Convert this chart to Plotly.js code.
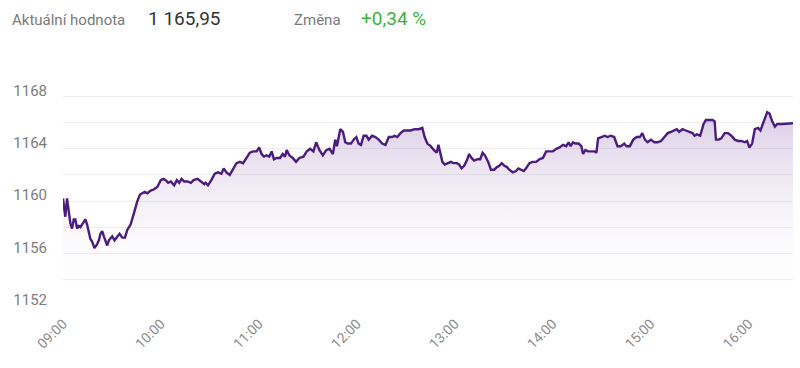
<!DOCTYPE html>
<html>
<head>
<meta charset="utf-8">
<script src="https://cdn.plot.ly/plotly-3.0.1.min.js"></script>
<style>
html,body{margin:0;padding:0;background:#fff;}
#chart{width:800px;height:368px;}
</style>
</head>
<body>
<div id="chart"></div>
<script>
const tradeDate = "2024-01-01";
const times = [
"09:00:00","09:01:25","09:02:28","09:03:30","09:04:30","09:05:32","09:06:35","09:07:34","09:08:37","09:09:40",
"09:10:39","09:12:44","09:13:43","09:14:46","09:15:49","09:16:48","09:17:51","09:19:16","09:20:55","09:21:58",
"09:22:57","09:24:00","09:25:03","09:26:02","09:27:05","09:28:07","09:29:07","09:30:09","09:31:34","09:33:14",
"09:34:39","09:36:19","09:37:58","09:39:23","09:41:25","09:43:31","09:45:32","09:47:12","09:48:37","09:50:02",
"09:51:42","09:53:43","09:55:49","09:57:51","09:59:53","10:01:32","10:02:57","10:04:26","10:06:02","10:08:07",
"10:09:43","10:11:12","10:12:37","10:14:17","10:16:19","10:18:20","10:20:00","10:22:28","10:24:30","10:26:35",
"10:27:23","10:28:48","10:30:54","10:32:56","10:34:57","10:37:03","10:38:28","10:40:08","10:42:09","10:44:11",
"10:46:17","10:48:19","10:50:20","10:52:26","10:54:28","10:56:30","10:58:35","11:00:11","11:01:40","11:03:05",
"11:04:45","11:06:21","11:07:49","11:09:14","11:10:54","11:12:56","11:14:35","11:16:00","11:17:03","11:18:39",
"11:20:45","11:22:46","11:24:48","11:27:16","11:29:21","11:31:23","11:33:25","11:35:05","11:37:07","11:39:12",
"11:41:14","11:43:16","11:45:21","11:46:46","11:47:49","11:49:51","11:51:31","11:52:56","11:54:21","11:56:26",
"11:58:02","11:59:42","12:01:07","12:02:35","12:04:11","12:05:51","12:07:16","12:09:22","12:11:23","12:13:25",
"12:15:31","12:17:33","12:19:35","12:21:40","12:23:05","12:24:45","12:26:47","12:28:48","12:30:54","12:32:56",
"12:35:23","12:38:02","12:40:08","12:41:33","12:43:12","12:45:14","12:47:16","12:48:56","12:49:59","12:51:23",
"12:52:26","12:53:51","12:55:31","12:57:33","12:59:12","13:01:14","13:02:39","13:04:08","13:05:44","13:07:24",
"13:08:48","13:10:17","13:11:53","13:13:59","13:15:35","13:17:03","13:18:28","13:20:30","13:22:10","13:24:11",
"13:25:51","13:27:16","13:28:45","13:30:21","13:32:00","13:33:25","13:35:31","13:37:33","13:38:58","13:40:37",
"13:42:17","13:43:42","13:45:44","13:47:49","13:49:51","13:51:53","13:53:59","13:56:00","13:58:02","14:00:08",
"14:02:10","14:04:12","14:06:17","14:08:19","14:09:44","14:10:58","14:12:26","14:13:51","14:15:53","14:17:33",
"14:18:36","14:20:00","14:21:40","14:23:42","14:25:44","14:26:47","14:27:49","14:29:51","14:31:53","14:33:33",
"14:35:35","14:37:40","14:39:42","14:41:44","14:43:49","14:45:14","14:47:16","14:49:22","14:51:24","14:53:25",
"14:54:54","14:56:30","14:58:10","15:00:12","15:02:17","15:04:19","15:06:21","15:08:26","15:10:28","15:12:30",
"15:14:36","15:16:01","15:17:26","15:19:31","15:21:33","15:24:12","15:25:40","15:26:54","15:28:19","15:30:21",
"15:32:26","15:33:51","15:35:53","15:37:59","15:39:13","15:40:01","15:41:40","15:43:16","15:45:22","15:47:24",
"15:49:26","15:51:31","15:53:33","15:55:35","15:57:40","15:59:05","16:00:30","16:02:10","16:03:50","16:05:51",
"16:07:16","16:09:22","16:11:24","16:12:49","16:14:28","16:16:08","16:17:33","16:20:38","16:24:45","16:27:13"
];
const values = [
1160.2,1158.8,1160.2,1159.2,1158.3,1157.9,1158.6,1158.6,1157.9,1158.1,
1158.0,1158.4,1158.6,1158.2,1157.7,1157.1,1156.9,1156.4,1156.7,1157.0,
1157.5,1157.7,1157.3,1156.9,1156.6,1157.0,1157.2,1157.3,1157.0,1157.3,
1157.5,1157.2,1157.2,1157.8,1158.2,1159.1,1160.0,1160.5,1160.6,1160.7,
1160.6,1160.8,1160.9,1161.1,1161.6,1161.7,1161.6,1161.4,1161.5,1161.2,
1161.6,1161.4,1161.7,1161.5,1161.5,1161.4,1161.6,1161.7,1161.5,1161.3,
1161.4,1161.2,1161.6,1162.1,1162.2,1162.1,1162.5,1162.2,1162.0,1162.4,
1162.9,1163.0,1162.9,1163.3,1163.7,1163.8,1163.8,1164.1,1163.6,1163.4,
1163.5,1163.4,1163.8,1163.2,1163.3,1163.3,1163.6,1163.4,1163.9,1163.5,
1163.3,1163.0,1163.3,1163.4,1163.8,1164.0,1163.8,1164.5,1163.9,1163.5,
1163.9,1164.0,1163.6,1164.7,1164.2,1165.5,1165.3,1164.5,1164.4,1164.4,
1164.7,1164.9,1164.4,1164.3,1165.0,1165.0,1164.7,1165.0,1164.9,1164.7,
1164.4,1164.3,1164.9,1164.9,1165.0,1164.9,1165.2,1165.4,1165.4,1165.4,
1165.5,1165.5,1165.6,1164.9,1164.4,1164.2,1163.9,1163.7,1164.3,1163.6,
1163.0,1162.8,1162.9,1163.0,1162.9,1162.9,1162.8,1162.5,1162.7,1163.1,
1163.6,1163.3,1163.1,1163.2,1163.2,1163.7,1163.5,1163.0,1162.4,1162.4,
1162.6,1162.7,1162.9,1162.7,1162.6,1162.4,1162.2,1162.3,1162.5,1162.4,
1162.3,1162.5,1162.9,1163.0,1163.0,1163.2,1163.3,1163.8,1163.8,1163.8,
1164.0,1164.1,1164.3,1164.2,1164.5,1164.2,1164.5,1164.4,1164.4,1164.2,
1163.6,1163.9,1163.8,1163.8,1163.8,1163.7,1164.8,1164.9,1165.0,1164.9,
1165.0,1164.9,1164.2,1164.2,1164.4,1164.2,1164.2,1164.7,1164.9,1164.9,
1165.2,1164.7,1164.5,1164.7,1164.5,1164.5,1164.6,1164.9,1165.2,1165.3,
1165.4,1165.5,1165.3,1165.5,1165.4,1165.3,1165.2,1165.0,1165.1,1165.0,
1165.9,1166.2,1166.2,1166.2,1166.1,1164.7,1164.7,1164.8,1165.2,1165.2,
1165.0,1164.7,1164.6,1164.6,1164.5,1164.6,1164.1,1164.4,1165.5,1165.6,
1165.4,1166.1,1166.8,1166.7,1166.1,1165.7,1165.9,1165.9,1165.9,1165.95
];
const yTicks = [1152, 1156, 1160, 1164, 1168];
const xTickStart = "09:00";
const headerLabels = ["Aktuální hodnota", "Změna"];
const headerValues = ["1 165,95", "+0,34 %"];

const xs = times.map(t => tradeDate + " " + t);

const L = 63, R = 793, T = 70, B = 306, W = 800, H = 368;
const px = x => (x - L) / (R - L);
const py = y => (B - y) / (B - T);

const trace = {
  x: xs, y: values, type: "scatter", mode: "lines",
  line: {color: "#4b1c7e", width: 2.4, shape: "linear"},
  fill: "tozeroy",
  fillgradient: {type: "vertical", start: 1152, stop: 1167,
    colorscale: [[0, "rgba(255,255,255,0)"], [1, "rgba(120,70,160,0.28)"]]},
  hoverinfo: "skip"
};

const hdrFont = {family: "Roboto, sans-serif", size: 15, color: "#7a7a7a"};
const layout = {
  width: W, height: H,
  margin: {l: L, r: W - R, t: T, b: H - B},
  paper_bgcolor: "#fff", plot_bgcolor: "#fff",
  showlegend: false,
  xaxis: {
    type: "date",
    range: [xs[0], xs[xs.length - 1]],
    tick0: tradeDate + " " + xTickStart, dtick: 3600000,
    tickformat: "%H:%M", tickangle: -45,
    showgrid: false, zeroline: false, showline: false,
    ticks: "", ticklabelstandoff: 6,
    tickfont: {family: "Roboto, sans-serif", size: 14, color: "#8c8c8c"}
  },
  yaxis: {
    range: [1151.97, 1170.03],
    tickvals: yTicks, ticktext: yTicks.map(String),
    ticklabelshift: -6,
    showgrid: true, gridcolor: "#ececf1", gridwidth: 1,
    minor: {dtick: 2, tick0: 1152, showgrid: true, gridcolor: "#ececf1", gridwidth: 1},
    zeroline: false, showline: false, ticks: "",
    ticklabelstandoff: 15,
    tickfont: {family: "Roboto, sans-serif", size: 15, color: "#7d7d7d"}
  },
  annotations: [
    {text: headerLabels[0], xref: "paper", yref: "paper", x: px(10), y: py(20), xanchor: "left", yanchor: "middle", showarrow: false, font: hdrFont},
    {text: headerValues[0], xref: "paper", yref: "paper", x: px(146), y: py(19), xanchor: "left", yanchor: "middle", showarrow: false, font: {family: "Roboto, sans-serif", size: 19, color: "#333333"}},
    {text: headerLabels[1], xref: "paper", yref: "paper", x: px(292), y: py(20), xanchor: "left", yanchor: "middle", showarrow: false, font: hdrFont},
    {text: headerValues[1], xref: "paper", yref: "paper", x: px(359), y: py(19), xanchor: "left", yanchor: "middle", showarrow: false, font: {family: "Roboto, sans-serif", size: 19, color: "#3cb33c"}}
  ]
};

Plotly.newPlot("chart", [trace], layout, {staticPlot: true, displayModeBar: false});
</script>
</body>
</html>
